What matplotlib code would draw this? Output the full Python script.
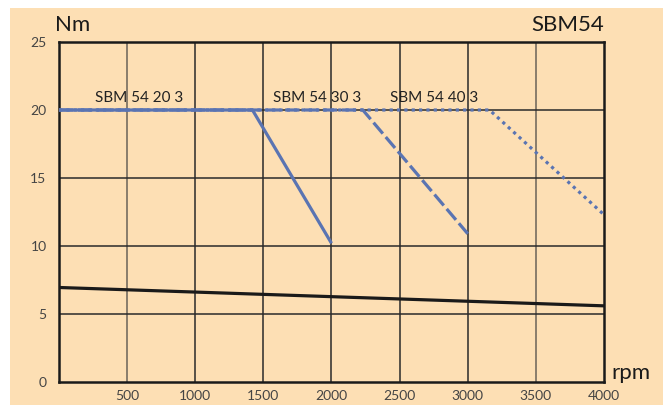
import matplotlib.pyplot as plt
from matplotlib.patches import Rectangle

# torque curves (rpm, Nm)
rpm_20 = [0, 1420, 2000]
nm_20 = [20, 20, 10.2]
rpm_30 = [0, 2230, 3000]
nm_30 = [20, 20, 10.9]
rpm_40 = [0, 3160, 4000]
nm_40 = [20, 20, 12.3]
rpm_base = [0, 4000]
nm_base = [6.95, 5.6]

labels = ["SBM 54 20 3", "SBM 54 30 3", "SBM 54 40 3"]
label_x = [265, 1570, 2430]
x_ticks = [500, 1000, 1500, 2000, 2500, 3000, 3500, 4000]
y_ticks = [0, 5, 10, 15, 20, 25]

plt.rcParams['font.family'] = ['Lato', 'DejaVu Sans']

bg = '#fddfb4'
blue = '#5a74b2'
grid_c = '#2a2a2a'

fig = plt.figure(figsize=(6.69, 4.05), dpi=100)
fig.patches.append(Rectangle((10 / 669, 0), 653 / 669, 397 / 405,
                             transform=fig.transFigure, facecolor=bg,
                             edgecolor='none', zorder=-10))

ax = fig.add_axes([59 / 669, 23 / 405, 545 / 669, 340 / 405])
ax.set_facecolor(bg)
ax.set_xlim(0, 4000)
ax.set_ylim(0, 25)

for x in x_ticks[:-1]:
    c = '#6a6258' if x in (500, 3500) else grid_c
    ax.axvline(x, color=c, lw=1.1, zorder=1)
for y in y_ticks[1:-1]:
    ax.axhline(y, color=grid_c, lw=1.1, zorder=1)

ax.plot(rpm_40, nm_40, color=blue, lw=2.3, linestyle=(0, (1, 1.3)), zorder=3)
ax.plot(rpm_30, nm_30, color=blue, lw=2.3, linestyle=(0, (4.5, 1.4)), zorder=4)
ax.plot(rpm_20, nm_20, color=blue, lw=2.3, zorder=5, solid_capstyle='butt')
ax.plot(rpm_base, nm_base, color='#1a1a1a', lw=2.3, zorder=6)

for lab, lx in zip(labels, label_x):
    ax.text(lx, 20.35, lab, fontsize=11, color='#222222', ha='left', va='bottom', zorder=7)

for s in ax.spines.values():
    s.set_linewidth(1.8)
    s.set_color('#1a1a1a')

ax.set_xticks(x_ticks)
ax.set_yticks(y_ticks)
ax.tick_params(length=0, labelsize=10, colors='#444444', pad=6)
ax.tick_params(axis='y', pad=9)

fig.text(55 / 669, 1 - 25 / 405, 'Nm', fontsize=16, color='#1a1a1a', va='center', ha='left')
fig.text(604 / 669, 1 - 25 / 405, 'SBM54', fontsize=16, color='#1a1a1a', va='center', ha='right')
fig.text(611 / 669, 1 - 373 / 405, 'rpm', fontsize=16, color='#1a1a1a', va='center', ha='left')

fig.savefig('out.png', dpi=100)
